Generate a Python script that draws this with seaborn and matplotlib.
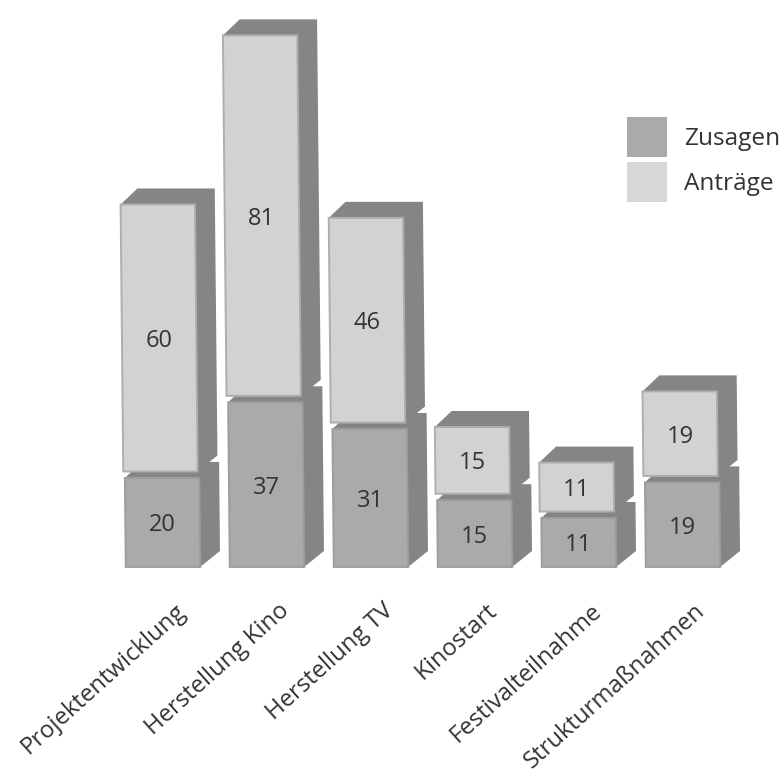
import matplotlib
matplotlib.use("Agg")
import matplotlib.pyplot as plt
import matplotlib.transforms as mtransforms
from matplotlib.patches import Patch, Polygon
import seaborn as sns

categories = ["Projektentwicklung", "Herstellung Kino", "Herstellung TV",
              "Kinostart", "Festivalteilnahme", "Strukturmaßnahmen"]
zusagen = [20, 37, 31, 15, 11, 19]
antraege = [60, 81, 46, 15, 11, 19]

COL_LOWER = "#a9aaac"
COL_LOWER_EDGE = "#9c9d9f"
COL_UPPER = "#d1d2d4"
COL_UPPER_EDGE = "#adaeb0"
COL_SIDE = "#848586"
COL_TEXT = "#333333"

sns.set_theme(style="white")
plt.rcParams["font.family"] = ["Open Sans", "DejaVu Sans"]

fig = plt.figure(figsize=(7.84, 7.76), dpi=100)
ax = fig.add_axes([0, 0, 1, 1])
ax.patch.set_alpha(0)

BAR_W = 0.715
GAP = 1.45          # vertical space between the two stacked blocks
DEPTH_X = 0.192     # extrusion of the pseudo-3D blocks
DEPTH_Y = 3.6
SHEAR = 0.00043     # the whole drawing leans slightly to the left going up
UPPER_SHIFT = -0.015

sns.barplot(x=categories, y=zusagen, color=COL_LOWER, width=BAR_W, saturation=1,
            edgecolor=COL_LOWER_EDGE, linewidth=1.4, ax=ax)
n = len(categories)
bottoms = [z + GAP for z in zusagen]
sns.barplot(x=categories, y=antraege, bottom=bottoms, color=COL_UPPER, width=BAR_W,
            saturation=1, edgecolor=COL_UPPER_EDGE, linewidth=1.4, ax=ax)

ax.set_xlim(-1.567, 5.971)
ax.set_ylim(-46.97, 127.4)

lean_lower = mtransforms.Affine2D(matrix=[[1, -SHEAR, 0], [0, 1, 0], [0, 0, 1]])
lean_upper = mtransforms.Affine2D(matrix=[[1, -SHEAR, UPPER_SHIFT], [0, 1, 0], [0, 0, 1]])


def add_depth(xc, y0, y1, lean, z):
    """Grey top and right faces behind a block's front rectangle."""
    xl, xr = xc - BAR_W / 2, xc + BAR_W / 2
    pts = [(xl, y1), (xl + DEPTH_X * 0.85, y1 + DEPTH_Y), (xr + DEPTH_X, y1 + DEPTH_Y),
           (xr + DEPTH_X, y0 + DEPTH_Y), (xr, y0)]
    ax.add_patch(Polygon(pts, closed=True, facecolor=COL_SIDE, edgecolor="none",
                         transform=lean + ax.transData, zorder=z))


for i, (patch, z) in enumerate(zip(ax.patches[:n], zusagen)):
    patch.set_transform(lean_lower + ax.transData)
    patch.set_zorder(2)
    add_depth(i, 0, z, lean_lower, 1)
    ax.text(i, z / 2, str(z), transform=lean_lower + ax.transData, ha="center",
            va="center_baseline", fontsize=17, color=COL_TEXT, zorder=6)

for i, (patch, a) in enumerate(zip(ax.patches[n:2 * n], antraege)):
    patch.set_transform(lean_upper + ax.transData)
    patch.set_zorder(4)
    add_depth(i, bottoms[i], bottoms[i] + a, lean_upper, 3)
    ax.text(i, bottoms[i] + a / 2, str(a), transform=lean_upper + ax.transData, ha="center",
            va="center_baseline", fontsize=17, color=COL_TEXT, zorder=6)

# Category labels hang from a hidden axis line at the base of the bars
sns.despine(ax=ax, left=True, top=True, right=True, bottom=True)
ax.spines["bottom"].set_position(("data", 0))
ax.set_yticks([])
ax.tick_params(axis="x", length=0, pad=23)
shift = mtransforms.ScaledTranslation(8 / 72, 0, fig.dpi_scale_trans)
ax.set_xticks(range(n))
ax.set_xticklabels(categories, rotation=42, ha="right", va="top", rotation_mode="anchor",
                   fontsize=17.2, color=COL_TEXT)
for label in ax.get_xticklabels():
    label.set_transform(label.get_transform() + shift)

handles = [Patch(facecolor=COL_LOWER, edgecolor="none"), Patch(facecolor="#d6d7d9", edgecolor="none")]
ax.legend(handles, ["Zusagen", "Anträge"], loc="upper left",
          bbox_to_anchor=(627 / 784, 1 - 117 / 776), borderaxespad=0, borderpad=0,
          frameon=False, fontsize=17.6, labelcolor=COL_TEXT, handlelength=1.64,
          handleheight=2.146, labelspacing=0.2, handletextpad=0.7)

fig.savefig("out.png", dpi=100, facecolor="white")
